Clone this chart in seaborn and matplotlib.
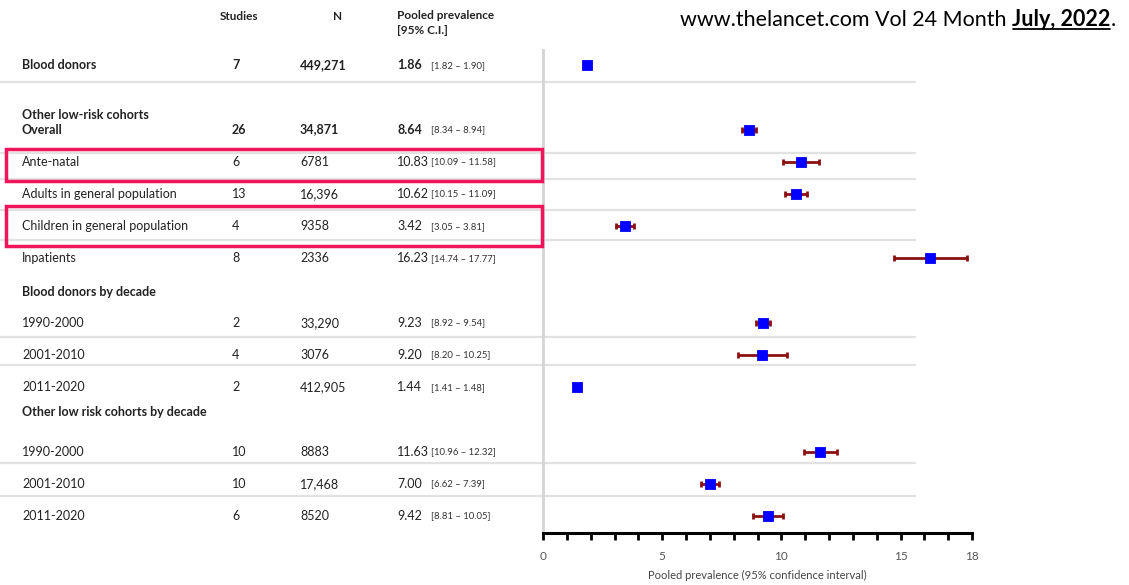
import matplotlib
matplotlib.use("Agg")
import matplotlib.pyplot as plt
import matplotlib.transforms as mtransforms
from matplotlib.patches import Rectangle
from matplotlib.ticker import FixedLocator, MultipleLocator
import numpy as np
import pandas as pd
import seaborn as sns

sns.set_theme(style="white")
plt.rcParams["font.family"] = ["Lato", "DejaVu Sans"]

# ---- data -------------------------------------------------------------
labels = ["Blood donors", "Overall", "Ante-natal", "Adults in general population",
          "Children in general population", "Inpatients",
          "1990-2000", "2001-2010", "2011-2020",
          "1990-2000", "2001-2010", "2011-2020"]
studies = ["7", "26", "6", "13", "4", "8", "2", "4", "2", "10", "10", "6"]
n_total = ["449,271", "34,871", "6781", "16,396", "9358", "2336",
           "33,290", "3076", "412,905", "8883", "17,468", "8520"]
prevalence = [1.86, 8.64, 10.83, 10.62, 3.42, 16.23, 9.23, 9.20, 1.44, 11.63, 7.00, 9.42]
ci_low = [1.82, 8.34, 10.09, 10.15, 3.05, 14.74, 8.92, 8.20, 1.41, 10.96, 6.62, 8.81]
ci_high = [1.90, 8.94, 11.58, 11.09, 3.81, 17.77, 9.54, 10.25, 1.48, 12.32, 7.39, 10.05]
bold_rows = ["Blood donors", "Overall"]

headings = ["Other low-risk cohorts", "Blood donors by decade", "Other low risk cohorts by decade"]
column_heads = ["Studies", "N", "Pooled prevalence\n[95% C.I.]"]
x_ticks = [0, 5, 10, 15, 18]
source_plain = "www.thelancet.com Vol 24 Month "
source_bold = "July, 2022"

# ---- layout (row slots, one slot = one table line) ---------------------
row_pos = [0, 2, 3, 4, 5, 6, 8, 9, 10, 12, 13, 14]
heading_pos = [1.55, 7.05, 10.77]
separators = [0.53, 2.72, 3.54, 4.5, 5.43, 8.45, 9.32, 12.36, 13.39]
highlight = [(2.62, 3.6), (4.38, 5.62)]

df = pd.DataFrame({"label": labels, "studies": studies, "n": n_total,
                   "prev": prevalence, "lo": ci_low, "hi": ci_high, "y": row_pos})

W, H = 1129, 585
fig = plt.figure(figsize=(W / 100, H / 100), dpi=100)
ax = fig.add_axes([543 / W, (H - 533) / H, (972 - 543) / W, (533 - 50) / H])
ax.set_xlim(0, 18)
ax.set_ylim(14.53, -0.47)

# error bars with caps, then the square point estimates
ax.errorbar(df["prev"], df["y"], xerr=[df["prev"] - df["lo"], df["hi"] - df["prev"]],
            fmt="none", ecolor="#8b1010", elinewidth=2, capsize=2.2, capthick=2, zorder=2)
sns.scatterplot(data=df, x="prev", y="y", marker="s", s=58, color="#0000ff",
                edgecolor="#0000ff", linewidth=0.6, ax=ax, zorder=3, legend=False)

# axes styling
for side in ["top", "right"]:
    ax.spines[side].set_visible(False)
ax.spines["left"].set_color("#d4d4d4")
ax.spines["left"].set_linewidth(2)
ax.spines["bottom"].set_color("black")
ax.spines["bottom"].set_linewidth(2.2)
ax.set_yticks([])
ax.set_ylabel("")
ax.xaxis.set_major_locator(FixedLocator(x_ticks))
ax.xaxis.set_minor_locator(MultipleLocator(1))
ax.set_xticklabels([str(t) for t in x_ticks])
ax.tick_params(axis="x", which="both", direction="out", length=5, width=2,
               color="black", bottom=True)
ax.tick_params(axis="x", which="major", pad=8, labelsize=8.5, labelcolor="#555555")
ax.set_xlabel("Pooled prevalence (95% confidence interval)", fontsize=8,
              color="#444444", labelpad=6)

# table text: x in figure pixels, y follows the axes rows
tr = mtransforms.blended_transform_factory(
    mtransforms.Affine2D().scale(1 / W, 1) + fig.transFigure, ax.transData)
px = mtransforms.Affine2D().scale(1 / W, 1 / H) + fig.transFigure

def txt(x, y, s, **kw):
    kw.setdefault("fontsize", 9)
    kw.setdefault("color", "#222222")
    fig.text(x, y, s, transform=tr, va="center", ha="left", **kw)

for _, r in df.iterrows():
    w = "bold" if r["label"] in bold_rows else "normal"
    txt(22, r["y"], r["label"], fontweight=w)
    txt(232, r["y"], r["studies"], fontweight=w)
    txt(300, r["y"], r["n"], fontweight=w)
    txt(397, r["y"], f"{r['prev']:.2f}", fontweight=w)
    txt(431, r["y"], f"[{r['lo']:.2f} \u2013 {r['hi']:.2f}]", fontsize=6.8, color="#333333")

for y, h in zip(heading_pos, headings):
    txt(22, y, h, fontweight="bold")

# column headers
fig.text(220, H - 17, column_heads[0], transform=px, fontsize=8.5, fontweight="bold",
         color="#222222", va="center", ha="left")
fig.text(333, H - 17, column_heads[1], transform=px, fontsize=8.5, fontweight="bold",
         color="#222222", va="center", ha="left")
fig.text(397, H - 10, column_heads[2], transform=px, fontsize=8.5, fontweight="bold",
         color="#222222", va="top", ha="left", linespacing=1.45)

# row separators
for y in separators:
    ax.plot([0, 915], [y, y], transform=tr, color="#e2e2e2", lw=1.6,
            clip_on=False, zorder=0)

# highlighted rows
for y0, y1 in highlight:
    fig.add_artist(Rectangle((6, y0), 536, y1 - y0, transform=tr, fill=False,
                             edgecolor="#f0145a", lw=2.5, zorder=5))

# source line, built piece by piece so the bold part can be underlined
renderer = fig.canvas.get_renderer()
src_font = dict(fontsize=15.5, color="black", va="baseline", ha="left")
base_y = H - 26
t1 = fig.text(680, base_y, source_plain, transform=px, **src_font)
x1 = t1.get_window_extent(renderer).x1
t2 = fig.text(x1, base_y, source_bold, transform=px, fontweight="bold", **src_font)
x2 = t2.get_window_extent(renderer).x1
fig.text(x2, base_y, ".", transform=px, **src_font)
fig.add_artist(plt.Line2D([x1 + 1, x2], [base_y - 3, base_y - 3], transform=px,
                          color="black", lw=1.3))

fig.savefig("out.png", dpi=100)
